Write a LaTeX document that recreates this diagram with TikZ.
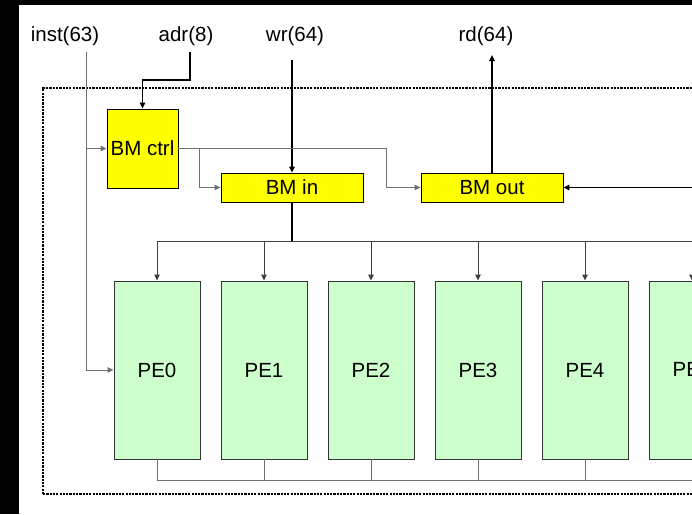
\documentclass[tikz,border=0pt]{standalone}
\usepackage{fontspec}
\setmainfont{Liberation Sans}
\usetikzlibrary{arrows.meta}
\definecolor{peg}{HTML}{CCFFCC}
\definecolor{bmy}{HTML}{FFFF00}
\definecolor{wire}{HTML}{707070}
\begin{document}
\begin{tikzpicture}[x=1pt,y=-1pt,
  every node/.style={font=\fontsize{20.5}{24}\selectfont, inner sep=0pt},
  bmbox/.style={draw=black, fill=bmy, line width=0.9pt, rectangle},
  pebox/.style={draw=black!80, fill=peg, line width=0.9pt, rectangle, minimum width=86pt, minimum height=178pt},
  lbl/.style={text=black},
  tip/.style={-{Triangle[length=6pt,width=5.5pt]}},
  thin wire/.style={draw=wire, line width=1pt},
  thick wire/.style={draw=black, line width=1.5pt},
  frame/.style={draw=black, line width=2.6pt, dash pattern=on 2.2pt off 1.1pt}
]
\useasboundingbox (0,0) rectangle (692,514);
\clip (0,0) rectangle (692,514);
\fill[black] (0,0) rectangle (692,514);
\fill[white] (19,5) rectangle (700,520);

% dotted frame
\draw[frame] (43,494) -- (43,88) -- (720,88);
\draw[frame] (43,494) -- (720,494);

% labels
\node[lbl] (inst) at (65,36) {inst(63)};
\node[lbl] (adr) at (186,36) {adr(8)};
\node[lbl] (wr) at (295,36) {wr(64)};
\node[lbl] (rd) at (486,36) {rd(64)};

% BM boxes
\node[bmbox, minimum width=71pt, minimum height=79pt] (bmctrl) at (142.5,148.5) {BM ctrl};
\node[bmbox, minimum width=142pt, minimum height=29pt] (bmin) at (292,187.5) {BM in};
\node[bmbox, minimum width=142pt, minimum height=29pt] (bmout) at (492,187.5) {BM out};

% PEs
\foreach \i in {0,...,5} {
  \node[pebox] (pe\i) at (157+107*\i,370) {PE\i};
}

% coordinates
\coordinate (instS) at (86,52);
\coordinate (adrS) at (190,52);
\coordinate (adrK) at (190,80);
\coordinate (wrS) at (292,60);
\coordinate (rdE) at (492,55);
\coordinate (ctrlK) at (386,148.5);
\coordinate (ctrlB) at (199,148.5);
\coordinate (rightIn) at (710,187.5);
\coordinate (busY) at (292,241);
\coordinate (busL) at (157,241);
\coordinate (busR) at (720,241);
\coordinate (botL) at (157,480);
\coordinate (botR) at (720,480);

% inst
\draw[thin wire, tip] (instS) -- (instS |- pe0.west) -- (pe0.west);
\draw[thin wire, tip] (instS |- bmctrl.west) -- (bmctrl.west);
% adr
\draw[thick wire, tip] (adrS) -- (adrK) -- (adrK -| bmctrl.north) -- (bmctrl.north);
% wr
\draw[thick wire, tip] (wrS) -- (bmin.north);
% rd
\draw[thick wire, tip] (bmout.north) -- (rdE);
% right input
\draw[thick wire, tip] (rightIn) -- (bmout.east);
% BM ctrl outputs
\draw[thin wire, tip] (bmctrl.east) -- (ctrlK) -- (ctrlK |- bmout.west) -- (bmout.west);
\draw[thin wire, tip] (ctrlB) -- (ctrlB |- bmin.west) -- (bmin.west);
% BM in to bus
\draw[thick wire] (bmin.south) -- (busY);
\draw[thin wire, draw=black!75] (busL) -- (busR);
\foreach \i in {0,...,5} {
  \draw[thin wire, draw=black!75, tip] (pe\i.north |- busL) -- (pe\i.north);
  \draw[thin wire] (pe\i.south) -- (pe\i.south |- botL);
}
\draw[thin wire] (botL) -- (botR);
\end{tikzpicture}
\end{document}
